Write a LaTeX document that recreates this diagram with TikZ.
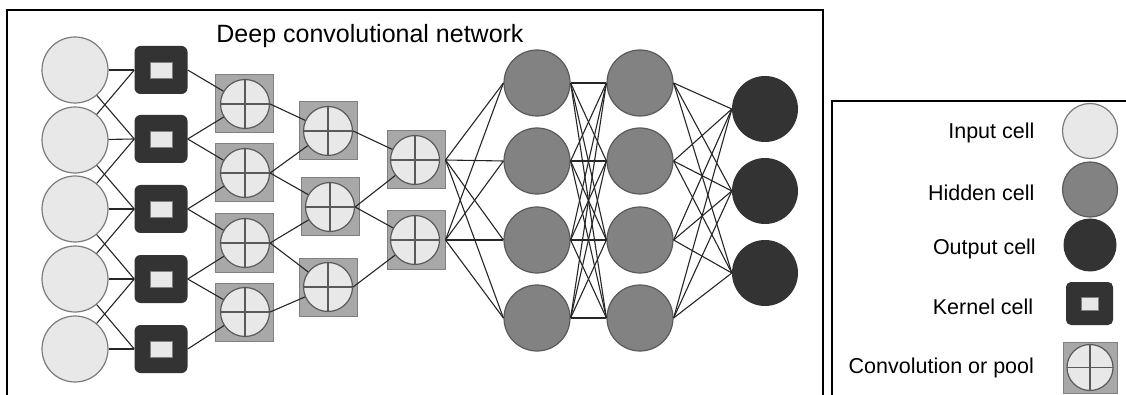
\documentclass[tikz,border=0pt]{standalone}
\usepackage{fontspec}
\setmainfont{Liberation Sans}
\usepackage{xcolor}
\usepackage{tikz}
\usetikzlibrary{positioning}

\definecolor{cin}{HTML}{E8E8E8}
\definecolor{chid}{HTML}{828282}
\definecolor{cout}{HTML}{333333}
\definecolor{cpool}{HTML}{A8A8A8}
\definecolor{cedge}{HTML}{5A5A5A}

\begin{document}
\begin{tikzpicture}[x=1pt, y=-1pt, node distance=24pt,
        inputcell/.style={circle, draw=cedge!80, fill=cin, line width=1.2pt, minimum size=66pt, inner sep=0pt},
        hiddencell/.style={circle, draw=cedge, fill=chid, line width=1.2pt, minimum size=66pt, inner sep=0pt},
        outputcell/.style={circle, fill=cout, minimum size=66pt, inner sep=0pt},
        kernelcell/.style={rectangle, rounded corners=6pt, fill=cout, minimum width=53pt, minimum height=48pt, inner sep=0pt},
        poolbox/.style={rectangle, draw=gray, fill=cpool, line width=1pt, minimum size=58pt, inner sep=0pt},
        poolcell/.style={circle, draw=cedge, fill=cin, line width=1.2pt, minimum size=49pt, inner sep=0pt,
            path picture={\draw[cedge, line width=1.2pt] (path picture bounding box.north) -- (path picture bounding box.south)
                (path picture bounding box.west) -- (path picture bounding box.east);}},
        conn/.style={line width=1.1pt, black!85},
        legend/.style={font=\fontsize{21.5}{24}\selectfont}
    ]
    \useasboundingbox (0,0) rectangle (1126,395);

    % frames
    \draw[line width=2.5pt] (7,395) -- (7,10) -- (823,10) -- (823,395);
    \draw[line width=2.5pt] (832,395) -- (832,101) -- (1126,101);

    \node[font=\fontsize{25}{28}\selectfont] (title) at (370,36) {Deep convolutional network};

    % cells of the network
    \foreach \y [count=\i] in {70,140,209,279,349}
        \node[inputcell] (in\i) at (75,\y) {};
    \foreach \y [count=\i] in {70,139,209,279,349}
        \node[kernelcell] (k\i) at (161,\y) {\tikz\draw[sharp corners, gray, fill=cin, line width=0.8pt] (0,0) rectangle (22pt,16pt);};
    \foreach \y [count=\i] in {104,173,243,312} {
        \node[poolbox] (pab\i) at (244,\y) {};
        \node[poolcell] (pa\i) at (245,\y) {};
    }
    \foreach \x/\y [count=\i] in {328/131,330/207,328/287} {
        \node[poolbox] (pbb\i) at (\x,\y) {};
        \node[poolcell] (pb\i) at (\x,\y) {};
    }
    \foreach \y [count=\i] in {160,240} {
        \node[poolbox] (pcb\i) at (416,\y) {};
        \node[poolcell] (pc\i) at (415,\y) {};
    }
    \foreach \y [count=\i] in {83,161,240,318} {
        \node[hiddencell] (ha\i) at (537,\y) {};
        \node[hiddencell] (hb\i) at (640,\y) {};
    }
    \foreach \y [count=\i] in {109,191,273}
        \node[outputcell] (out\i) at (765,\y) {};

    % connections
    \foreach \i in {1,...,5}
        \draw[conn] (in\i) -- (k\i.west);
    \foreach \i [evaluate=\i as \j using int(\i+1)] in {1,...,4} {
        \draw[conn] (in\i) -- (k\j.west);
        \draw[conn] (in\j) -- (k\i.west);
        \draw[conn] (k\i.east) -- (pa\i);
        \draw[conn] (k\j.east) -- (pa\i);
    }
    \foreach \i [evaluate=\i as \j using int(\i+1)] in {1,...,3} {
        \draw[conn] (pa\i.east) -- (pb\i);
        \draw[conn] (pa\j.east) -- (pb\i);
    }
    \foreach \i [evaluate=\i as \j using int(\i+1)] in {1,2} {
        \draw[conn] (pb\i.east) -- (pc\i);
        \draw[conn] (pb\j.east) -- (pc\i);
    }
    \foreach \i in {1,2}
        \foreach \j in {1,...,4}
            \draw[conn] (pcb\i.east) -- (ha\j.west);
    \foreach \i in {1,...,4} {
        \foreach \j in {1,...,4}
            \draw[conn] (ha\i.east) -- (hb\j.west);
        \foreach \j in {1,...,3}
            \draw[conn] (hb\i.east) -- (out\j.west);
    }

    % legend
    \node[inputcell, minimum size=55pt] (lin) at (1090,131) {};
    \node[hiddencell, minimum size=55pt] (lhid) at (1090,189.5) {};
    \node[outputcell, minimum size=53pt] (lout) at (1090,245) {};
    \node[kernelcell, minimum width=47pt, minimum height=43pt, rounded corners=5pt] (lker) at (1089.5,303.5)
        {\tikz\draw[sharp corners, gray, fill=cin, line width=0.8pt] (0,0) rectangle (17pt,13pt);};
    \node[poolbox, minimum width=54pt, minimum height=51pt] (lpoolb) at (1090,367.5) {};
    \node[poolcell, minimum size=46pt] (lpool) at (1090,367.5) {};

    \node[legend, left=24pt of lin, yshift=-2pt] (tin) {Input cell};
    \node[legend, left=24pt of lhid, yshift=-3pt] (thid) {Hidden cell};
    \node[legend, left=24pt of lout, yshift=-4pt] (tout) {Output cell};
    \node[legend, left=29pt of lker, yshift=-3pt] (tker) {Kernel cell};
    \node[legend, left=25pt of lpoolb] (tpool) {Convolution or pool};
\end{tikzpicture}
\end{document}
